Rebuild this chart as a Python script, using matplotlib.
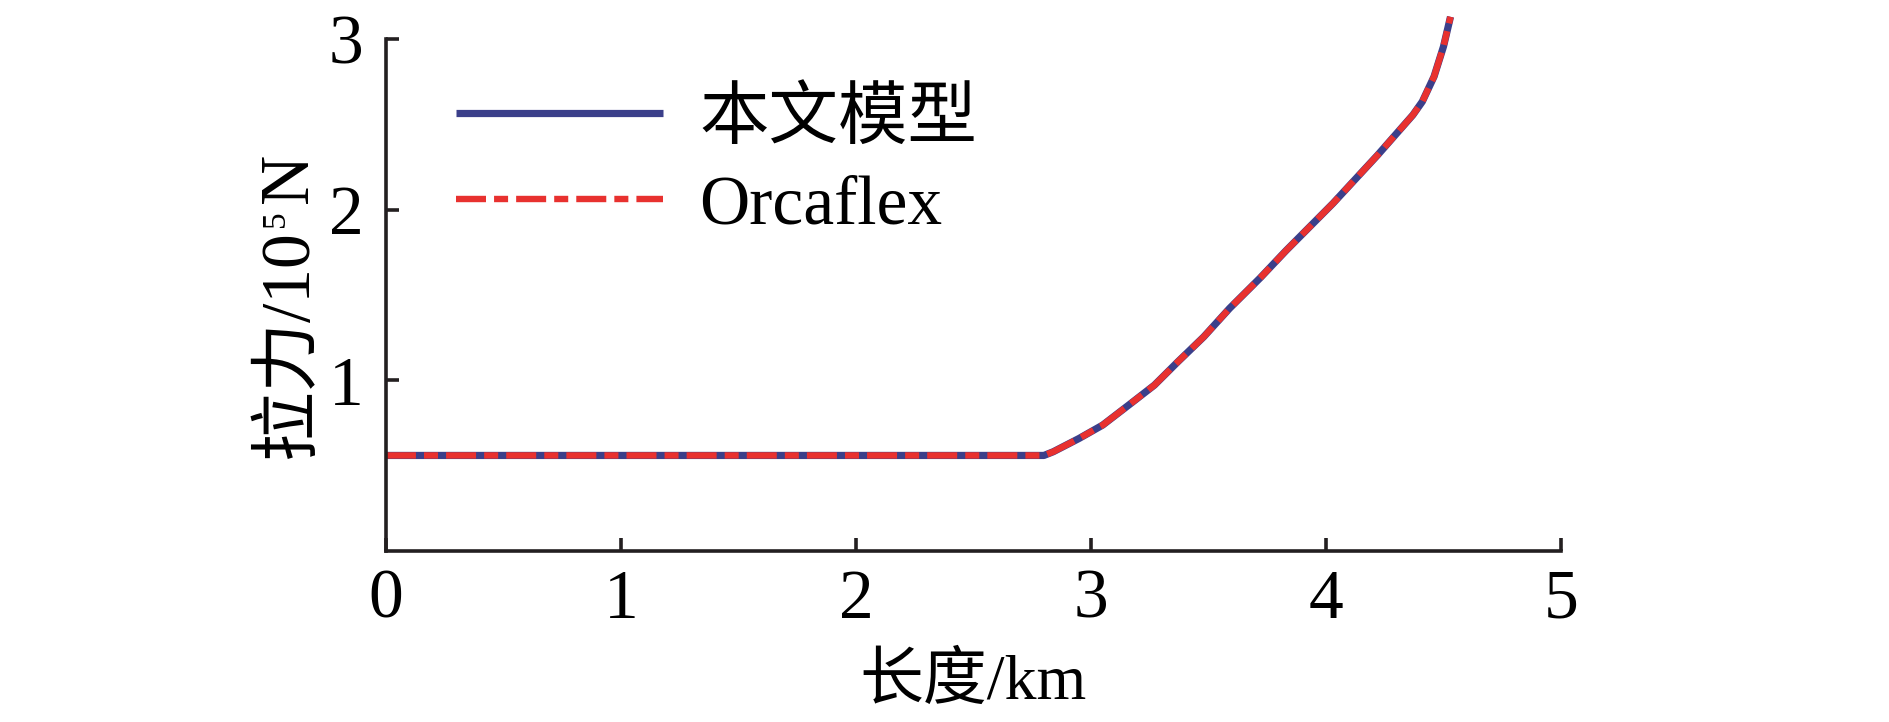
import matplotlib
matplotlib.use("Agg")
import matplotlib.pyplot as plt

plt.rcParams['font.family'] = ['Liberation Serif', 'Noto Sans CJK SC', 'DejaVu Serif']
plt.rcParams['lines.scale_dashes'] = False

# data (length in km, tension in 1e5 N)
length_model = [0, 2.80, 2.84, 2.95, 3.05, 3.17, 3.27, 3.37, 3.48, 3.59, 3.72,
                3.83, 4.03, 4.22, 4.37, 4.41, 4.46, 4.50, 4.53]
tension_model = [0.56, 0.56, 0.582, 0.66, 0.738, 0.865, 0.972, 1.109, 1.255, 1.422,
                 1.60, 1.76, 2.037, 2.32, 2.555, 2.633, 2.78, 2.955, 3.13]
length_orca = [0, 2.80, 2.84, 2.95, 3.05, 3.17, 3.27, 3.37, 3.48, 3.59, 3.72,
               3.83, 4.03, 4.22, 4.37, 4.41, 4.46, 4.50, 4.53]
tension_orca = [0.56, 0.56, 0.582, 0.66, 0.738, 0.865, 0.972, 1.109, 1.255, 1.422,
                1.60, 1.76, 2.037, 2.32, 2.555, 2.633, 2.78, 2.955, 3.13]
labels = ['本文模型', 'Orcaflex']
x_ticks = [0, 1, 2, 3, 4, 5]
y_ticks = [1, 2, 3]

blue = '#3B3F8A'
red = '#E8312F'
axis_col = '#231F20'

W, H = 1890, 722
fig = plt.figure(figsize=(W / 100, H / 100), dpi=100)
ax = fig.add_axes([0.2042, 0.2368, 0.6217, 0.7092])

ax.plot(length_model, tension_model, color=blue, lw=5.2, label=labels[0],
        clip_on=False, solid_capstyle='butt')
ax.plot(length_orca, tension_orca, color=red, lw=4.6, label=labels[1],
        clip_on=False, dashes=(21.6, 5.8, 10.1, 5.8))

ax.set_xlim(0, 5)
ax.set_ylim(0, 3)
ax.set_xticks(x_ticks)
ax.set_yticks(y_ticks)

for s in ['top', 'right']:
    ax.spines[s].set_visible(False)
for s in ['left', 'bottom']:
    ax.spines[s].set_linewidth(2.6)
    ax.spines[s].set_color(axis_col)

ax.tick_params(axis='both', direction='in', length=9.5, width=2.6,
               color=axis_col, labelsize=50, labelcolor='black')
ax.tick_params(axis='x', pad=13)
ax.tick_params(axis='y', pad=16)

ax.set_xlabel('长度/km', fontsize=46, labelpad=15)

# y label in pieces so the exponent can be a real superscript
renderer = fig.canvas.get_renderer()
rot = dict(rotation=90, rotation_mode='anchor', ha='left', va='baseline')
t1 = fig.text(307 / W, 264 / H, '拉力/10', fontsize=50, **rot)
y_end = t1.get_window_extent(renderer).y1
t2 = fig.text(284 / W, (y_end + 3) / H, '5', fontsize=24, **rot)
y_end = t2.get_window_extent(renderer).y1
fig.text(307 / W, (y_end + 8) / H, 'N', fontsize=50, **rot)

leg = ax.legend(loc='upper left', bbox_to_anchor=(0.0596, 0.905), frameon=False,
                fontsize=50, handlelength=2.98, handletextpad=0.52,
                borderpad=0, borderaxespad=0, labelspacing=0.32)

fig.savefig('out.png', dpi=100)
